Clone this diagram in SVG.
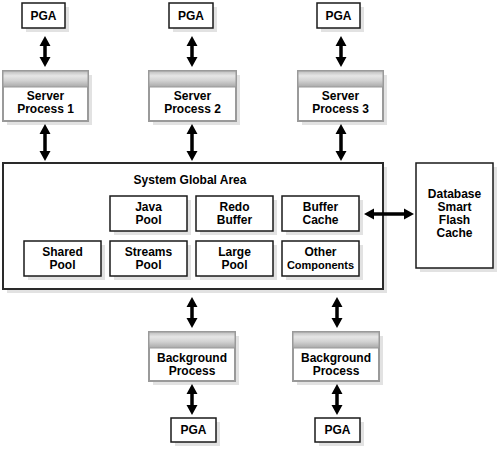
<svg xmlns="http://www.w3.org/2000/svg" width="498" height="452" viewBox="0 0 498 452">
<defs>
<linearGradient id="hdr" x1="0" y1="0" x2="0" y2="1">
<stop offset="0" stop-color="#bdbdbd"/>
<stop offset="0.3" stop-color="#e6e6e6"/>
<stop offset="0.6" stop-color="#d2d2d2"/>
<stop offset="1" stop-color="#a9a9a9"/>
</linearGradient>
</defs>
<style>
.sh{fill:#e2e2e2}
.bx{fill:#fff;stroke:#1a1a1a;stroke-width:1.5}
.sga{fill:#fff;stroke:#2a2a2a;stroke-width:2}
.pr{fill:#fff;stroke:#9a9a9a;stroke-width:2}
.hd{fill:url(#hdr);stroke:#9a9a9a;stroke-width:1}
.t{font-family:"Liberation Sans",Arial,sans-serif;font-weight:bold;font-size:12px;fill:#000;text-anchor:middle}
.s{font-size:11px}
.arr{fill:#000}
</style>
<rect width="498" height="452" fill="#fff"/>

<g id="sga">
<rect class="sh" x="7" y="167" width="380" height="126"/>
<rect class="sga" x="3" y="163" width="380" height="126"/>
<text class="t" x="190" y="184">System Global Area</text>
</g>

<g id="java-pool">
<rect class="sh" x="114" y="200" width="77" height="35"/>
<rect class="bx" x="110" y="196" width="77" height="35"/>
<text class="t" x="148.5" y="211">Java</text><text class="t" x="148.5" y="224">Pool</text>
</g>
<g id="redo-buffer">
<rect class="sh" x="200" y="200" width="77" height="35"/>
<rect class="bx" x="196" y="196" width="77" height="35"/>
<text class="t" x="234.5" y="211">Redo</text><text class="t" x="234.5" y="224">Buffer</text>
</g>
<g id="buffer-cache">
<rect class="sh" x="286" y="200" width="77" height="35"/>
<rect class="bx" x="282" y="196" width="77" height="35"/>
<text class="t" x="320.5" y="211">Buffer</text><text class="t" x="320.5" y="224">Cache</text>
</g>
<g id="shared-pool">
<rect class="sh" x="28" y="245" width="77" height="35"/>
<rect class="bx" x="24" y="241" width="77" height="35"/>
<text class="t" x="62.5" y="256">Shared</text><text class="t" x="62.5" y="269">Pool</text>
</g>
<g id="streams-pool">
<rect class="sh" x="114" y="245" width="77" height="35"/>
<rect class="bx" x="110" y="241" width="77" height="35"/>
<text class="t" x="148.5" y="256">Streams</text><text class="t" x="148.5" y="269">Pool</text>
</g>
<g id="large-pool">
<rect class="sh" x="200" y="245" width="77" height="35"/>
<rect class="bx" x="196" y="241" width="77" height="35"/>
<text class="t" x="234.5" y="256">Large</text><text class="t" x="234.5" y="269">Pool</text>
</g>
<g id="other-components">
<rect class="sh" x="286" y="245" width="77" height="35"/>
<rect class="bx" x="282" y="241" width="77" height="35"/>
<text class="t" x="320.5" y="256">Other</text><text class="t s" x="320.5" y="269">Components</text>
</g>

<g id="flash-cache">
<rect class="sh" x="420" y="167" width="77" height="105"/>
<rect class="bx" x="416" y="163" width="77" height="105"/>
<text class="t" x="454.5" y="198">Database</text>
<text class="t" x="454.5" y="211">Smart</text>
<text class="t" x="454.5" y="224">Flash</text>
<text class="t" x="454.5" y="237">Cache</text>
</g>

<g id="pga-1">
<rect class="sh" x="26" y="7" width="43" height="25"/>
<rect class="bx" x="22" y="3" width="43" height="25"/>
<text class="t" x="43.5" y="20">PGA</text>
</g>
<g id="pga-2">
<rect class="sh" x="173" y="7" width="44" height="25"/>
<rect class="bx" x="169" y="3" width="44" height="25"/>
<text class="t" x="191" y="20">PGA</text>
</g>
<g id="pga-3">
<rect class="sh" x="321" y="7" width="43" height="25"/>
<rect class="bx" x="317" y="3" width="43" height="25"/>
<text class="t" x="338.5" y="20">PGA</text>
</g>

<g id="server-process-1">
<rect class="sh" x="7" y="75" width="85" height="50"/>
<rect class="pr" x="3" y="71" width="85" height="50"/>
<rect class="hd" x="3" y="71" width="85" height="16"/>
<text class="t" x="45.5" y="100">Server</text><text class="t" x="45.5" y="113">Process 1</text>
</g>
<g id="server-process-2">
<rect class="sh" x="153" y="75" width="87" height="50"/>
<rect class="pr" x="149" y="71" width="87" height="50"/>
<rect class="hd" x="149" y="71" width="87" height="16"/>
<text class="t" x="192.5" y="100">Server</text><text class="t" x="192.5" y="113">Process 2</text>
</g>
<g id="server-process-3">
<rect class="sh" x="302" y="75" width="85" height="50"/>
<rect class="pr" x="298" y="71" width="85" height="50"/>
<rect class="hd" x="298" y="71" width="85" height="16"/>
<text class="t" x="340.5" y="100">Server</text><text class="t" x="340.5" y="113">Process 3</text>
</g>

<g id="background-process-1">
<rect class="sh" x="153" y="336" width="86" height="49"/>
<rect class="pr" x="149" y="332" width="86" height="49"/>
<rect class="hd" x="149" y="332" width="86" height="16"/>
<text class="t" x="192" y="362">Background</text><text class="t" x="192" y="375">Process</text>
</g>
<g id="background-process-2">
<rect class="sh" x="297" y="336" width="86" height="49"/>
<rect class="pr" x="293" y="332" width="86" height="49"/>
<rect class="hd" x="293" y="332" width="86" height="16"/>
<text class="t" x="336" y="362">Background</text><text class="t" x="336" y="375">Process</text>
</g>

<g id="pga-4">
<rect class="sh" x="175" y="422" width="45" height="24"/>
<rect class="bx" x="171" y="418" width="45" height="24"/>
<text class="t" x="193.5" y="434">PGA</text>
</g>
<g id="pga-5">
<rect class="sh" x="319" y="422" width="45" height="24"/>
<rect class="bx" x="315" y="418" width="45" height="24"/>
<text class="t" x="337.5" y="434">PGA</text>
</g>

<g id="connectors">
<path class="arr" d="M45 36 L50.5 46 H46.75 V57 H50.5 L45 67 L39.5 57 H43.25 V46 H39.5 Z"/>
<path class="arr" d="M192 36 L197.5 46 H193.75 V57 H197.5 L192 67 L186.5 57 H190.25 V46 H186.5 Z"/>
<path class="arr" d="M341 36 L346.5 46 H342.75 V57 H346.5 L341 67 L335.5 57 H339.25 V46 H335.5 Z"/>
<path class="arr" d="M45 124 L50.5 134 H46.75 V151 H50.5 L45 161 L39.5 151 H43.25 V134 H39.5 Z"/>
<path class="arr" d="M192 124 L197.5 134 H193.75 V151 H197.5 L192 161 L186.5 151 H190.25 V134 H186.5 Z"/>
<path class="arr" d="M341 124 L346.5 134 H342.75 V151 H346.5 L341 161 L335.5 151 H339.25 V134 H335.5 Z"/>
<path class="arr" d="M364 214 L374 208.5 V212.25 H404 V208.5 L414 214 L404 219.5 V215.75 H374 V219.5 Z"/>
<path class="arr" d="M192 297 L197.5 307 H193.75 V318 H197.5 L192 328 L186.5 318 H190.25 V307 H186.5 Z"/>
<path class="arr" d="M337 297 L342.5 307 H338.75 V318 H342.5 L337 328 L331.5 318 H335.25 V307 H331.5 Z"/>
<path class="arr" d="M192 384 L197.5 394 H193.75 V405 H197.5 L192 415 L186.5 405 H190.25 V394 H186.5 Z"/>
<path class="arr" d="M337 384 L342.5 394 H338.75 V405 H342.5 L337 415 L331.5 405 H335.25 V394 H331.5 Z"/>
</g>
</svg>
